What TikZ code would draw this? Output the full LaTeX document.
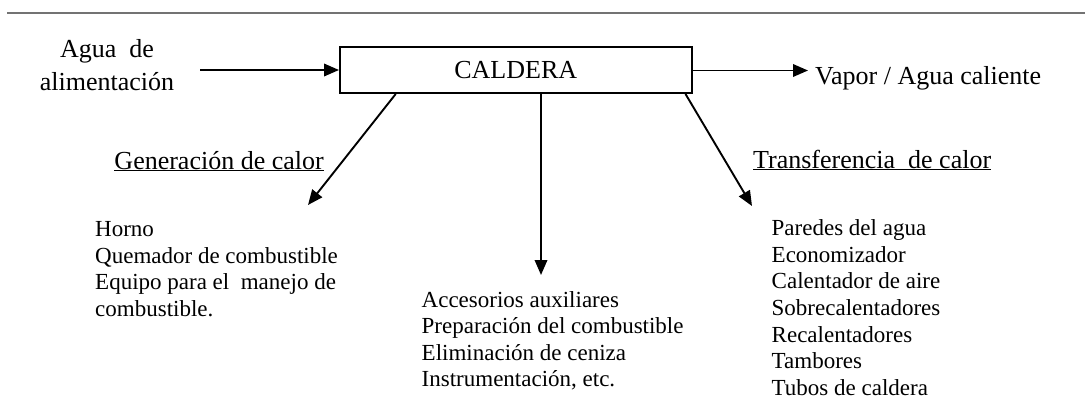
\documentclass[tikz,border=0pt]{standalone}
\usepackage{fontspec}
\setmainfont{Liberation Serif}
\usetikzlibrary{arrows.meta}

\begin{document}
\begin{tikzpicture}[x=1pt,y=-1pt,
  flecha/.style={line width=1.9pt,-{Triangle[length=15pt,width=12.5pt]}},
  titulo/.style={font=\fontsize{26}{33}\selectfont,inner sep=0pt},
  lista/.style={font=\fontsize{23}{26.6}\selectfont,align=left,anchor=north west,inner sep=0pt}]
\useasboundingbox (0,0) rectangle (1085,399);
\draw[line width=2.2pt,black!55] (7,13) -- (1085,13);
\node[draw,line width=2pt,minimum width=351.5pt,minimum height=46pt,inner sep=0pt,font=\fontsize{26}{30}\selectfont] (caldera) at (515.75,70) {CALDERA};
\node[titulo,align=center,anchor=north] (agua) at (107,39) {Agua~ de\\alimentación};
\node[titulo,anchor=base west] (vapor) at (815,84) {Vapor / Agua caliente};
\node[titulo,anchor=base east] (gen) at (324,169) {\underline{Generación de calor}};
\node[titulo,anchor=base west] (trans) at (753,168) {\underline{Transferencia~ de calor}};
\coordinate (agua_in) at (200,70);
\coordinate (vapor_out) at (808,70.5);
\coordinate (gen_tip) at (308,205);
\coordinate (aux_tip) at (541,275);
\coordinate (trans_tip) at (752,206);
\draw[flecha] (agua_in) -- (caldera.west);
\draw[flecha] (caldera.east |- vapor_out) -- (vapor_out);
\draw[flecha] ([xshift=56.7pt]caldera.south west) -- (gen_tip);
\draw[flecha] (caldera.south -| aux_tip) -- (aux_tip);
\draw[flecha] ([xshift=-7pt]caldera.south east) -- (trans_tip);
\node[lista] (L_gen) at (95,221.3) {Horno\\Quemador de combustible\\Equipo para el~ manejo de\\combustible.};
\node[lista] (L_aux) at (421.5,291) {Accesorios auxiliares\\Preparación del combustible\\Eliminación de ceniza\\Instrumentación, etc.};
\node[lista] (L_trans) at (771.5,219.5) {Paredes del agua\\Economizador\\Calentador de aire\\Sobrecalentadores\\Recalentadores\\Tambores\\Tubos de caldera};
\end{tikzpicture}
\end{document}
